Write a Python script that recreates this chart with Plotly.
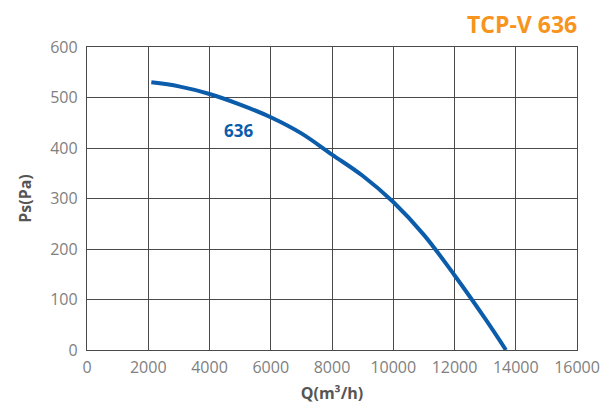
import plotly.graph_objects as go

# Curve data (Q in m3/h, Ps in Pa)
q_values = [2100, 3000, 4000, 5000, 6000, 7000, 8000, 9000, 10000, 11000, 12000, 13000, 13680]
ps_values = [530, 522, 507, 486, 461, 429, 387, 345, 293, 228, 148, 62, 0]

x_ticks = [0, 2000, 4000, 6000, 8000, 10000, 12000, 14000, 16000]
y_ticks = [0, 100, 200, 300, 400, 500, 600]

curve_label = "636"
label_q, label_ps = 4950, 435
chart_title = "TCP-V 636"

blue = "#0b5cab"
grid = "#4a4a4a"
tick_font = dict(family="Open Sans", size=16, color="#808080")

fig = go.Figure()
fig.add_trace(go.Scatter(
    x=q_values, y=ps_values, mode="lines",
    line=dict(color=blue, width=4, shape="spline", smoothing=1.0),
    hoverinfo="skip", showlegend=False,
))

fig.add_annotation(x=label_q, y=label_ps, text="<b>" + curve_label + "</b>",
                   showarrow=False, font=dict(family="Open Sans", size=17, color=blue))

fig.add_annotation(xref="paper", yref="paper", x=1.0, y=1.0, xanchor="right", yanchor="bottom",
                   xshift=2, yshift=5, text="<b>" + chart_title + "</b>", showarrow=False,
                   font=dict(family="Open Sans", size=23, color="#f7941d"))

fig.update_layout(
    width=607, height=405,
    margin=dict(l=79, r=38, t=39, b=63),
    paper_bgcolor="white", plot_bgcolor="white",
    xaxis=dict(
        range=[0, 16000], tickvals=x_ticks, ticktext=[str(v) for v in x_ticks],
        showgrid=True, gridcolor=grid, gridwidth=1.3, zeroline=False,
        showline=True, linecolor=grid, linewidth=1.3, mirror=True, automargin=False,
        tickfont=tick_font, ticks="", ticklabelstandoff=3,
        title=dict(text="<b>Q(m³/h)</b>", font=dict(family="Open Sans", size=16, color="#555555"), standoff=10),
    ),
    yaxis=dict(
        range=[0, 600], tickvals=y_ticks, ticktext=[str(v) for v in y_ticks],
        showgrid=True, gridcolor=grid, gridwidth=1.3, zeroline=False,
        showline=True, linecolor=grid, linewidth=1.3, mirror=True, automargin=False,
        tickfont=tick_font, ticks="", ticklabelstandoff=5,
        title=dict(text="<b>Ps(Pa)</b>", font=dict(family="Open Sans", size=16, color="#555555"), standoff=14),
    ),
)

fig.write_html("out.html")
